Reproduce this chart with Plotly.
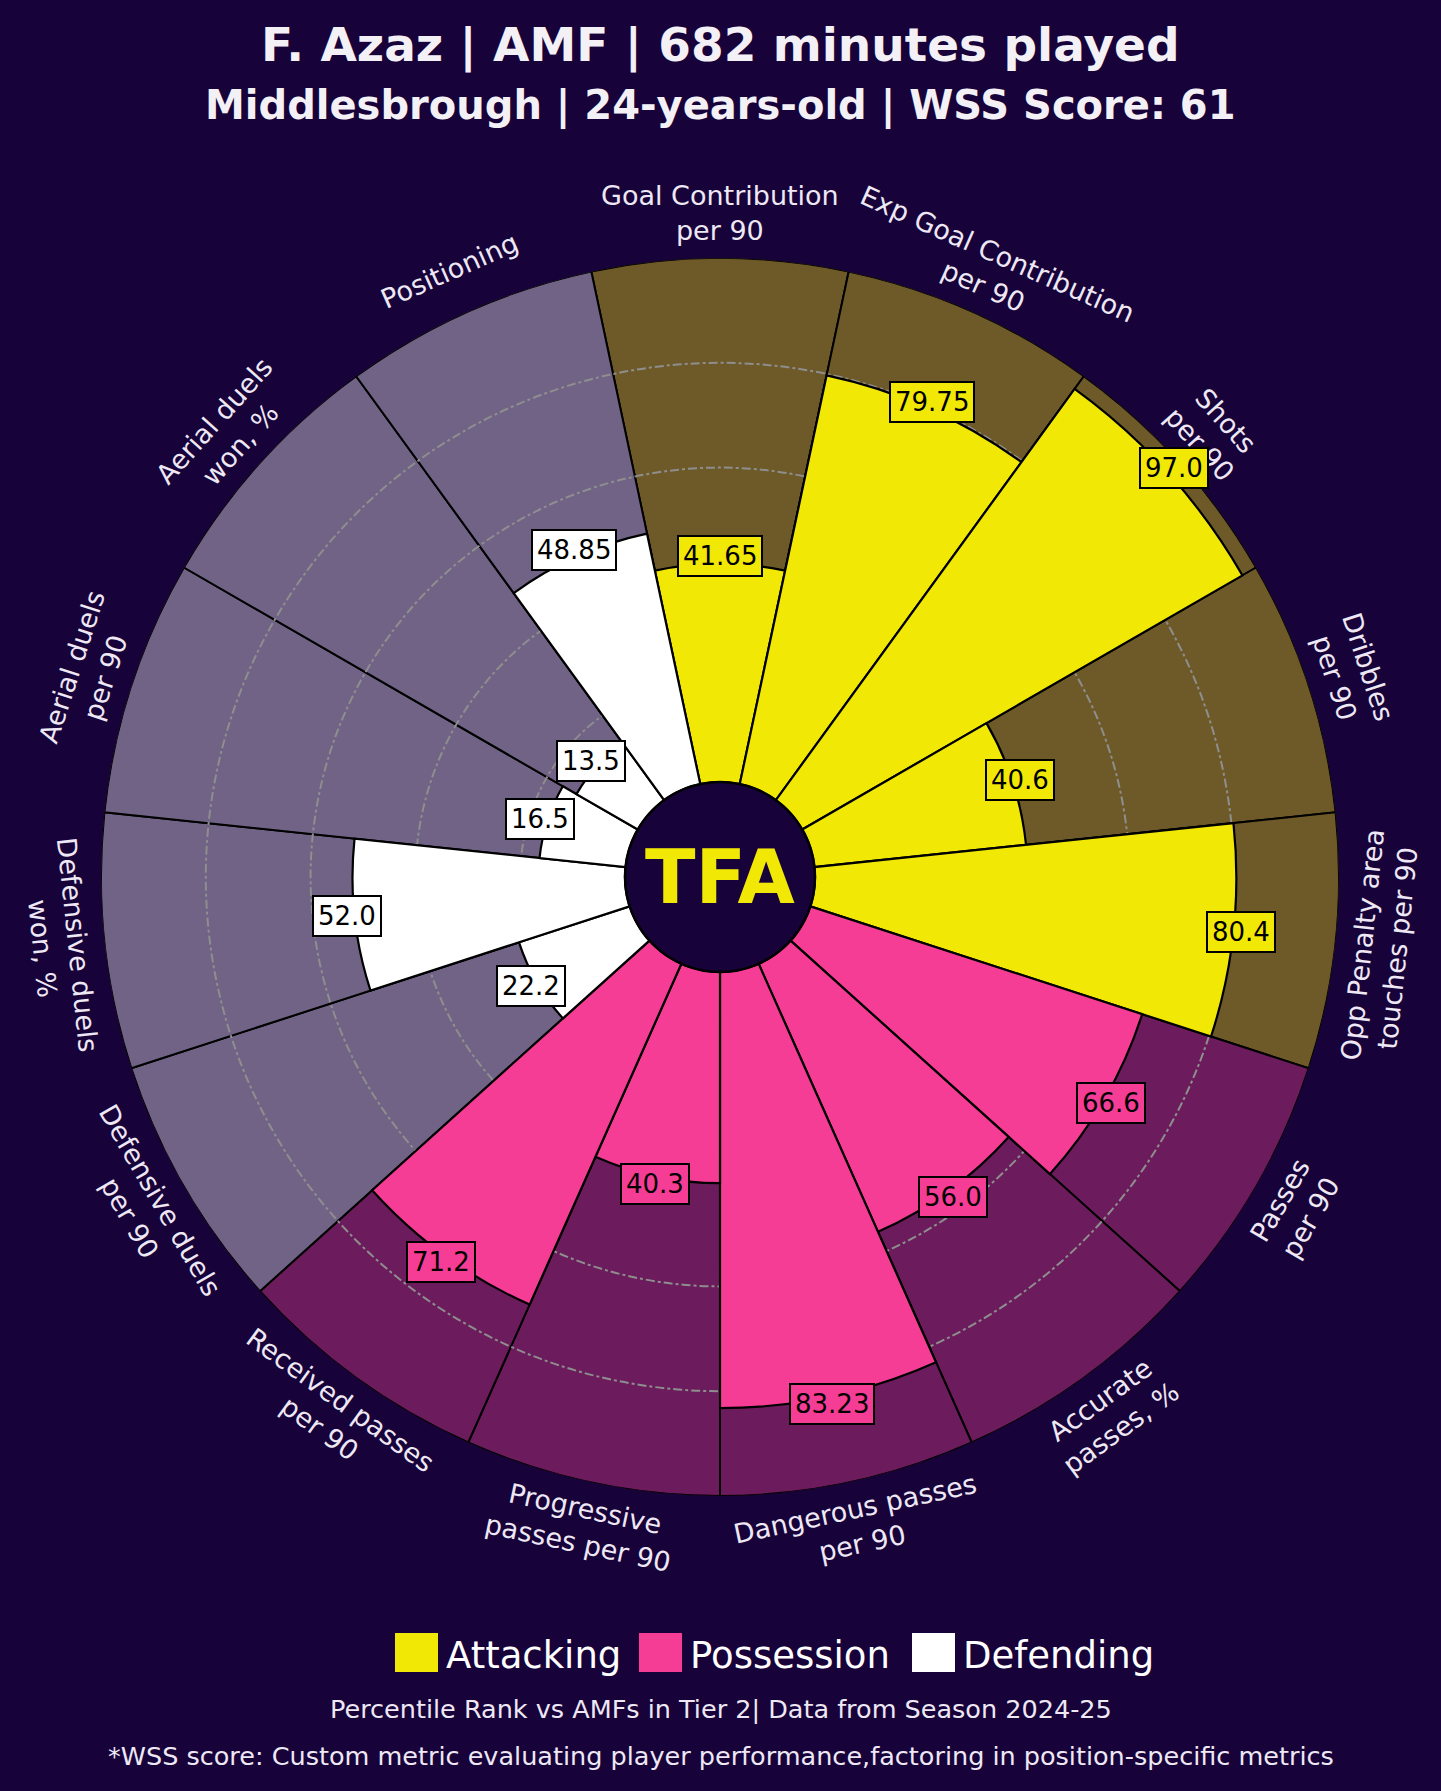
import math
import plotly.graph_objects as go

# ---------------- data ----------------
params = [
    "Goal Contribution<br>per 90",
    "Exp Goal Contribution<br>per 90",
    "Shots<br>per 90",
    "Dribbles<br>per 90",
    "Opp Penalty area<br>touches per 90",
    "Passes<br>per 90",
    "Accurate<br>passes, %",
    "Dangerous passes<br>per 90",
    "Progressive<br>passes per 90",
    "Received passes<br>per 90",
    "Defensive duels<br>per 90",
    "Defensive duels<br>won, %",
    "Aerial duels<br>per 90",
    "Aerial duels<br>won, %",
    "Positioning",
]
values = [41.65, 79.75, 97.0, 40.6, 80.4, 66.6, 56.0, 83.23, 40.3, 71.2,
          22.2, 52.0, 16.5, 13.5, 48.85]
groups = ["Attacking"] * 5 + ["Possession"] * 5 + ["Defending"] * 5
legend_names = ["Attacking", "Possession", "Defending"]

title1 = "F. Azaz | AMF | 682 minutes played"
title2 = "Middlesbrough | 24-years-old | WSS Score: 61"
foot1 = "Percentile Rank vs AMFs in Tier 2| Data from Season 2024-25"
foot2 = "*WSS score: Custom metric evaluating player performance,factoring in position-specific metrics"

# ---------------- style ----------------
BG = "#17023A"
fill_col = {"Attacking": "#F2E805", "Possession": "#F63D96", "Defending": "#FFFFFF"}
back_col = {"Attacking": "#6E5A28", "Possession": "#6C1B5C", "Defending": "#706386"}
TXT = "#EEE8F4"
W, H = 1441, 1791
CX, CY = 720, 877          # centre of the pizza (px from top-left)
R_OUT, R_HOLE = 619, 95    # outer radius and hole radius (px)
FONT = "DejaVu Sans"

n = len(params)
step = 360 / n
theta = [i * step for i in range(n)]

dom = dict(x=[(CX - R_OUT) / W, (CX + R_OUT) / W],
           y=[1 - (CY + R_OUT) / H, 1 - (CY - R_OUT) / H])


def polar_cfg(grid=False):
    return dict(
        domain=dom, hole=R_HOLE / R_OUT, bgcolor="rgba(0,0,0,0)",
        radialaxis=dict(range=[0, 100], showticklabels=False, ticks="", showline=False,
                        showgrid=grid, tickvals=[20, 40, 60, 80], gridcolor="#8E8E8E",
                        griddash="dashdot", gridwidth=1.8),
        angularaxis=dict(rotation=90, direction="clockwise", showticklabels=False,
                         ticks="", showline=False, showgrid=False),
    )


def to_paper(r_px, th):
    a = math.radians(90 - th)
    return (CX + r_px * math.cos(a)) / W, 1 - (CY - r_px * math.sin(a)) / H


fig = go.Figure()
# background slices (full 100)
fig.add_trace(go.Barpolar(
    r=[100] * n, theta=theta, width=[step] * n,
    marker=dict(color=[back_col[g] for g in groups], line=dict(color="#000000", width=2)),
    subplot="polar", hoverinfo="skip", showlegend=False))
# grid layer
fig.add_trace(go.Scatterpolar(r=[0], theta=[0], mode="markers", marker=dict(opacity=0),
                              subplot="polar2", hoverinfo="skip", showlegend=False))
# value slices
fig.add_trace(go.Barpolar(
    r=values, theta=theta, width=[step] * n,
    marker=dict(color=[fill_col[g] for g in groups], line=dict(color="#000000", width=2.2)),
    subplot="polar3", showlegend=False))

ann = []
# parameter labels
for p, th in zip(params, theta):
    x, y = to_paper(664, th)
    rot = th if th <= 90 else (th - 180 if th <= 270 else th - 360)
    ann.append(dict(x=x, y=y, xref="paper", yref="paper", text=p, showarrow=False,
                    textangle=rot, xanchor="center", yanchor="middle",
                    font=dict(family=FONT, size=27, color=TXT)))
# value labels
for v, th, g in zip(values, theta, groups):
    rp = R_HOLE + (v + 1.4) / 100 * (R_OUT - R_HOLE)
    x, y = to_paper(rp, th)
    ann.append(dict(x=x, y=y, xref="paper", yref="paper", text=str(v), showarrow=False,
                    xanchor="center", yanchor="middle", bgcolor=fill_col[g],
                    bordercolor="#000000", borderwidth=2, borderpad=4,
                    font=dict(family=FONT, size=26, color="#000000")))
# centre logo
ann.append(dict(x=CX / W, y=1 - CY / H, xref="paper", yref="paper", text="<b>TFA</b>",
                showarrow=False, xanchor="center", yanchor="middle",
                font=dict(family="DejaVu Sans", size=74, color="#F2E805")))
# titles
ann.append(dict(x=0.5, y=1 - 45 / H, xref="paper", yref="paper", text=f"<b>{title1}</b>",
                showarrow=False, xanchor="center", yanchor="middle",
                font=dict(family="DejaVu Sans", size=47, color="#F3F0F6")))
ann.append(dict(x=0.5, y=1 - 106 / H, xref="paper", yref="paper", text=f"<b>{title2}</b>",
                showarrow=False, xanchor="center", yanchor="middle",
                font=dict(family="DejaVu Sans", size=40, color="#F3F0F6")))
# footers
ann.append(dict(x=0.5, y=1 - 1709 / H, xref="paper", yref="paper", text=foot1,
                showarrow=False, xanchor="center", yanchor="middle",
                font=dict(family=FONT, size=25.5, color=TXT)))
ann.append(dict(x=0.5, y=1 - 1756 / H, xref="paper", yref="paper", text=foot2,
                showarrow=False, xanchor="center", yanchor="middle",
                font=dict(family=FONT, size=25.5, color=TXT)))

# legend: squares + text
shapes = []
leg_sq_x = [395, 639, 912]
for name, sx in zip(legend_names, leg_sq_x):
    shapes.append(dict(type="rect", xref="paper", yref="paper",
                       x0=sx / W, x1=(sx + 43) / W, y0=1 - 1672 / H, y1=1 - 1633 / H,
                       fillcolor=fill_col[name], line=dict(width=0)))
    ann.append(dict(x=(sx + 49) / W, y=1 - 1655 / H, xref="paper", yref="paper", text=name,
                    showarrow=False, xanchor="left", yanchor="middle",
                    font=dict(family=FONT, size=37, color="#FFFFFF")))
# centre circle border
shapes.append(dict(type="circle", xref="paper", yref="paper",
                   x0=(CX - R_HOLE) / W, x1=(CX + R_HOLE) / W,
                   y0=1 - (CY + R_HOLE) / H, y1=1 - (CY - R_HOLE) / H,
                   line=dict(color="#000000", width=2.5), fillcolor="rgba(0,0,0,0)"))

fig.update_layout(
    width=W, height=H, margin=dict(l=0, r=0, t=0, b=0),
    paper_bgcolor=BG, plot_bgcolor=BG, showlegend=False,
    polar=polar_cfg(False), polar2=polar_cfg(True), polar3=polar_cfg(False),
    annotations=ann, shapes=shapes,
)

fig.write_html("out.html", config={"displayModeBar": False},
               post_script="document.body.style.margin='0px';document.body.style.backgroundColor='%s';" % BG)
